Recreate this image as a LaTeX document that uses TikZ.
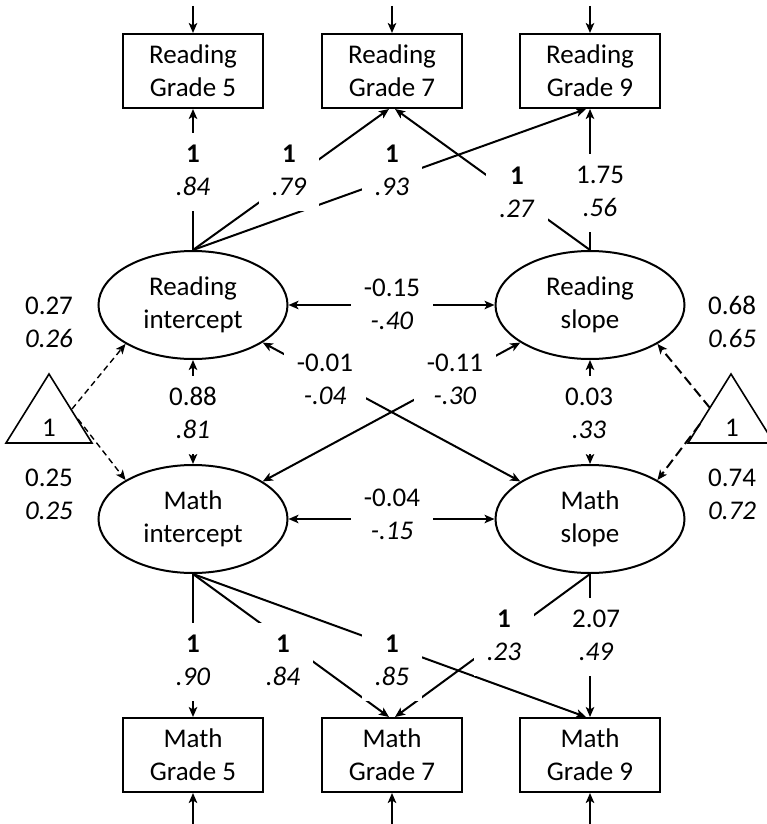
\documentclass[tikz,border=0pt]{standalone}
\usepackage{fontspec}
\setmainfont{Carlito}
\usetikzlibrary{shapes.geometric,arrows.meta}
\newcommand\twol[2]{\strut #1\\\strut #2}
\begin{document}
\begin{tikzpicture}[x=1pt,y=-1pt,
  every node/.style={font=\fontsize{27}{33}\selectfont},
  obs/.style={draw,line width=2pt,minimum width=140pt,minimum height=74pt,align=center,inner sep=0pt},
  lat/.style={draw,ellipse,line width=2pt,minimum width=189pt,minimum height=108pt,align=center,inner sep=0pt},
  lab/.style={fill=white,align=center,inner xsep=13pt,inner ysep=6pt},
  narrowlab/.style={lab,inner xsep=4pt},
  plainlab/.style={align=center,inner sep=0pt},
  tip/.tip={Stealth[length=10pt,width=8.5pt,inset=2.5pt]},
  arr/.style={line width=2pt,-tip},
  dbl/.style={line width=2pt,tip-tip},
  dashl/.style={line width=1.4pt,dash pattern=on 6pt off 4pt,-tip},
  dashr/.style={line width=2pt,dash pattern=on 10pt off 5pt,-tip},
  tri/.style={line width=1.6pt,line join=miter}
]
\fill[white] (0,0) rectangle (767,824);
\useasboundingbox (0,0) rectangle (767,824);

% observed
\node[obs] (RG5) at (193,71) {Reading\\Grade 5};
\node[obs] (RG7) at (392,71) {Reading\\Grade 7};
\node[obs] (RG9) at (590,71) {Reading\\Grade 9};
\node[obs] (MG5) at (193,755) {Math\\Grade 5};
\node[obs] (MG7) at (392,755) {Math\\Grade 7};
\node[obs] (MG9) at (590,755) {Math\\Grade 9};

% latent
\node[lat] (RI) at (193,305) {Reading\\intercept};
\node[lat] (RS) at (590,305) {Reading\\slope};
\node[lat] (MI) at (193,519) {Math\\intercept};
\node[lat] (MS) at (590,519) {Math\\slope};

% triangles
\draw[tri] (6,443) -- (49,374) -- (92,443) -- cycle;
\node[plainlab] (T1) at (49,428) {1};
\draw[tri] (688,443) -- (731,374) -- (774,443) -- cycle;
\node[plainlab] (T2) at (732,428) {1};
\coordinate (TL1) at (72,409);
\coordinate (TL2) at (78,419);
\coordinate (TR1) at (710,408);
\coordinate (TR2) at (700,424);

% error arrows
\coordinate (E1) at (193,6);
\coordinate (E2) at (392,6);
\coordinate (E3) at (590,6);
\coordinate (E4) at (193,830);
\coordinate (E5) at (392,830);
\coordinate (E6) at (590,830);
\draw[arr] (E1) -- (RG5);
\draw[arr] (E2) -- (RG7);
\draw[arr] (E3) -- (RG9);
\draw[arr] (E4) -- (MG5);
\draw[arr] (E5) -- (MG7);
\draw[arr] (E6) -- (MG9);

% loadings reading
\draw[arr] (RI.north) -- (RG5.south);
\draw[arr] (RI.north) -- ([xshift=-3pt]RG7.south);
\draw[arr] (RI.north) -- ([xshift=-4pt]RG9.south);
\draw[arr] (RS.north) -- ([xshift=3pt]RG7.south);
\draw[arr] (RS.north) -- (RG9.south);

% loadings math
\draw[arr] (MI.south) -- (MG5.north);
\draw[arr] (MI.south) -- ([xshift=-3pt]MG7.north);
\draw[arr] (MI.south) -- ([xshift=-4pt]MG9.north);
\draw[arr] (MS.south) -- ([xshift=3pt]MG7.north);
\draw[arr] (MS.south) -- (MG9.north);

% covariances
\draw[dbl] (RI) -- (RS);
\draw[dbl] (MI) -- (MS);
\draw[dbl] (RI) -- (MI);
\draw[dbl] (RS) -- (MS);
\draw[dbl] (RI) -- (MS);
\draw[dbl] (RS) -- (MI);

% means
\draw[dashl] (TL1) -- (RI.-150);
\draw[dashl] (TL2) -- (MI.150);
\draw[dashr] (TR1) -- (RS.-30);
\draw[dashr] (TR2) -- (MS.30);

% labels
\node[lab] (l1) at (193,172) {\twol{\textbf{1}}{\textit{.84}}};
\node[lab] (l2) at (289,172) {\twol{\textbf{1}}{\textit{.79}}};
\node[lab] (l3) at (392,172) {\twol{\textbf{1}}{\textit{.93}}};
\node[lab] (l4) at (517,194) {\twol{\textbf{1}}{\textit{.27}}};
\node[narrowlab] (l5) at (600,193) {\twol{1.75}{\textit{.56}}};

\node[lab] (l6) at (392,306) {\twol{-0.15}{\textit{-.40}}};
\node[lab] (l7) at (392,516) {\twol{-0.04}{\textit{-.15}}};
\node[lab] (l8) at (193,415) {\twol{0.88}{\textit{.81}}};
\node[lab] (l9) at (589,415) {\twol{0.03}{\textit{.33}}};
\node[lab] (l10) at (325,381) {\twol{-0.01}{\textit{-.04}}};
\node[lab] (l11) at (455,381) {\twol{-0.11}{\textit{-.30}}};

\node[lab] (l12) at (193,662) {\twol{\textbf{1}}{\textit{.90}}};
\node[lab] (l13) at (283,662) {\twol{\textbf{1}}{\textit{.84}}};
\node[lab] (l14) at (392,662) {\twol{\textbf{1}}{\textit{.85}}};
\node[lab] (l15) at (504,637) {\twol{\textbf{1}}{\textit{.23}}};
\node[narrowlab] (l16) at (596,637) {\twol{2.07}{\textit{.49}}};

\node[plainlab] (s1) at (49,324) {\twol{0.27}{\textit{0.26}}};
\node[plainlab] (s2) at (49,496) {\twol{0.25}{\textit{0.25}}};
\node[plainlab] (s3) at (732,324) {\twol{0.68}{\textit{0.65}}};
\node[plainlab] (s4) at (732,496) {\twol{0.74}{\textit{0.72}}};
\end{tikzpicture}
\end{document}
